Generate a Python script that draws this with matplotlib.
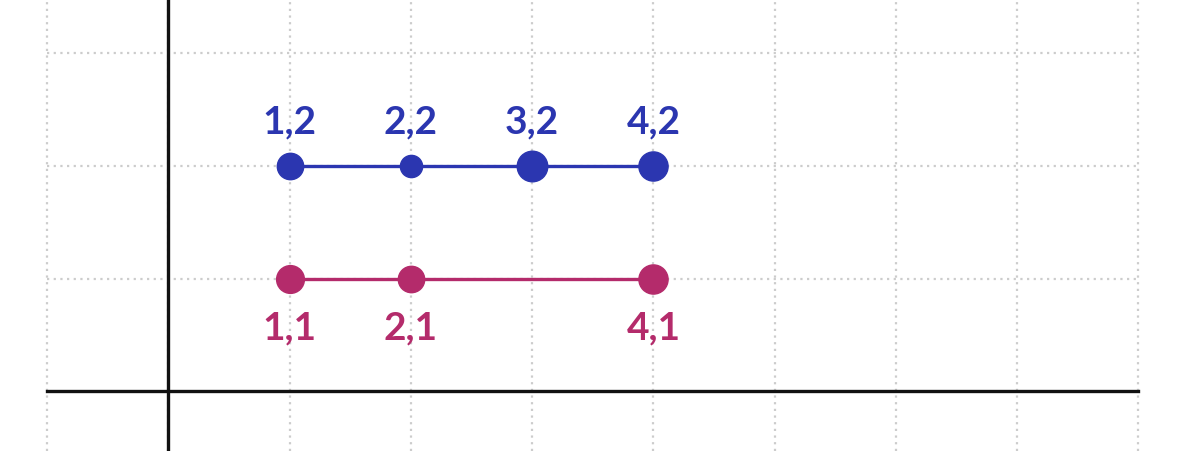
import matplotlib
matplotlib.use("Agg")
import matplotlib.pyplot as plt

# data
blue_x = [1, 2, 3, 4]
blue_y = [2, 2, 2, 2]
blue_labels = ["1,2", "2,2", "3,2", "4,2"]
pink_x = [1, 2, 4]
pink_y = [1, 1, 1]
pink_labels = ["1,1", "2,1", "4,1"]
grid_x = [-1, 0, 1, 2, 3, 4, 5, 6, 7, 8]
grid_y = [1, 2, 3]

BLUE = "#2b36b0"
PINK = "#b42b6b"
GRID = "#cccccc"

fig = plt.figure(figsize=(12, 4.52), dpi=100)
ax = fig.add_axes([0, 0, 1, 1])
ax.set_xlim(-1.39, 8.51)
ax.set_ylim(-0.53, 3.48)
ax.axis("off")

dots = (0, (1, 2))
for gx in grid_x:
    ax.axvline(gx, color=GRID, lw=1.6, ls=dots, zorder=0)
for gy in grid_y:
    ax.plot([-1, 8], [gy, gy], color=GRID, lw=1.6, ls=dots, zorder=0)

# axes
ax.plot([-1, 8], [0, 0], color="#111111", lw=2.4, zorder=1)
ax.axvline(0, color="#111111", lw=2.4, zorder=1)

font = dict(family="Lato", fontsize=28, fontweight="bold", ha="center", va="center")

ax.plot(blue_x, blue_y, color=BLUE, lw=2.4, zorder=2)
blue_ms = [19, 16, 22, 21]
for x, y, ms, lab in zip(blue_x, blue_y, blue_ms, blue_labels):
    ax.plot(x, y, "o", color=BLUE, ms=ms, mec=BLUE, zorder=3)
    ax.text(x, y + 0.4, lab, color=BLUE, **font)

ax.plot(pink_x, pink_y, color=PINK, lw=2.4, zorder=2)
pink_ms = [20, 19, 21]
for x, y, ms, lab in zip(pink_x, pink_y, pink_ms, pink_labels):
    ax.plot(x, y, "o", color=PINK, ms=ms, mec=PINK, zorder=3)
    ax.text(x, y - 0.43, lab, color=PINK, **font)

fig.savefig("out.png", dpi=100, facecolor="white")
